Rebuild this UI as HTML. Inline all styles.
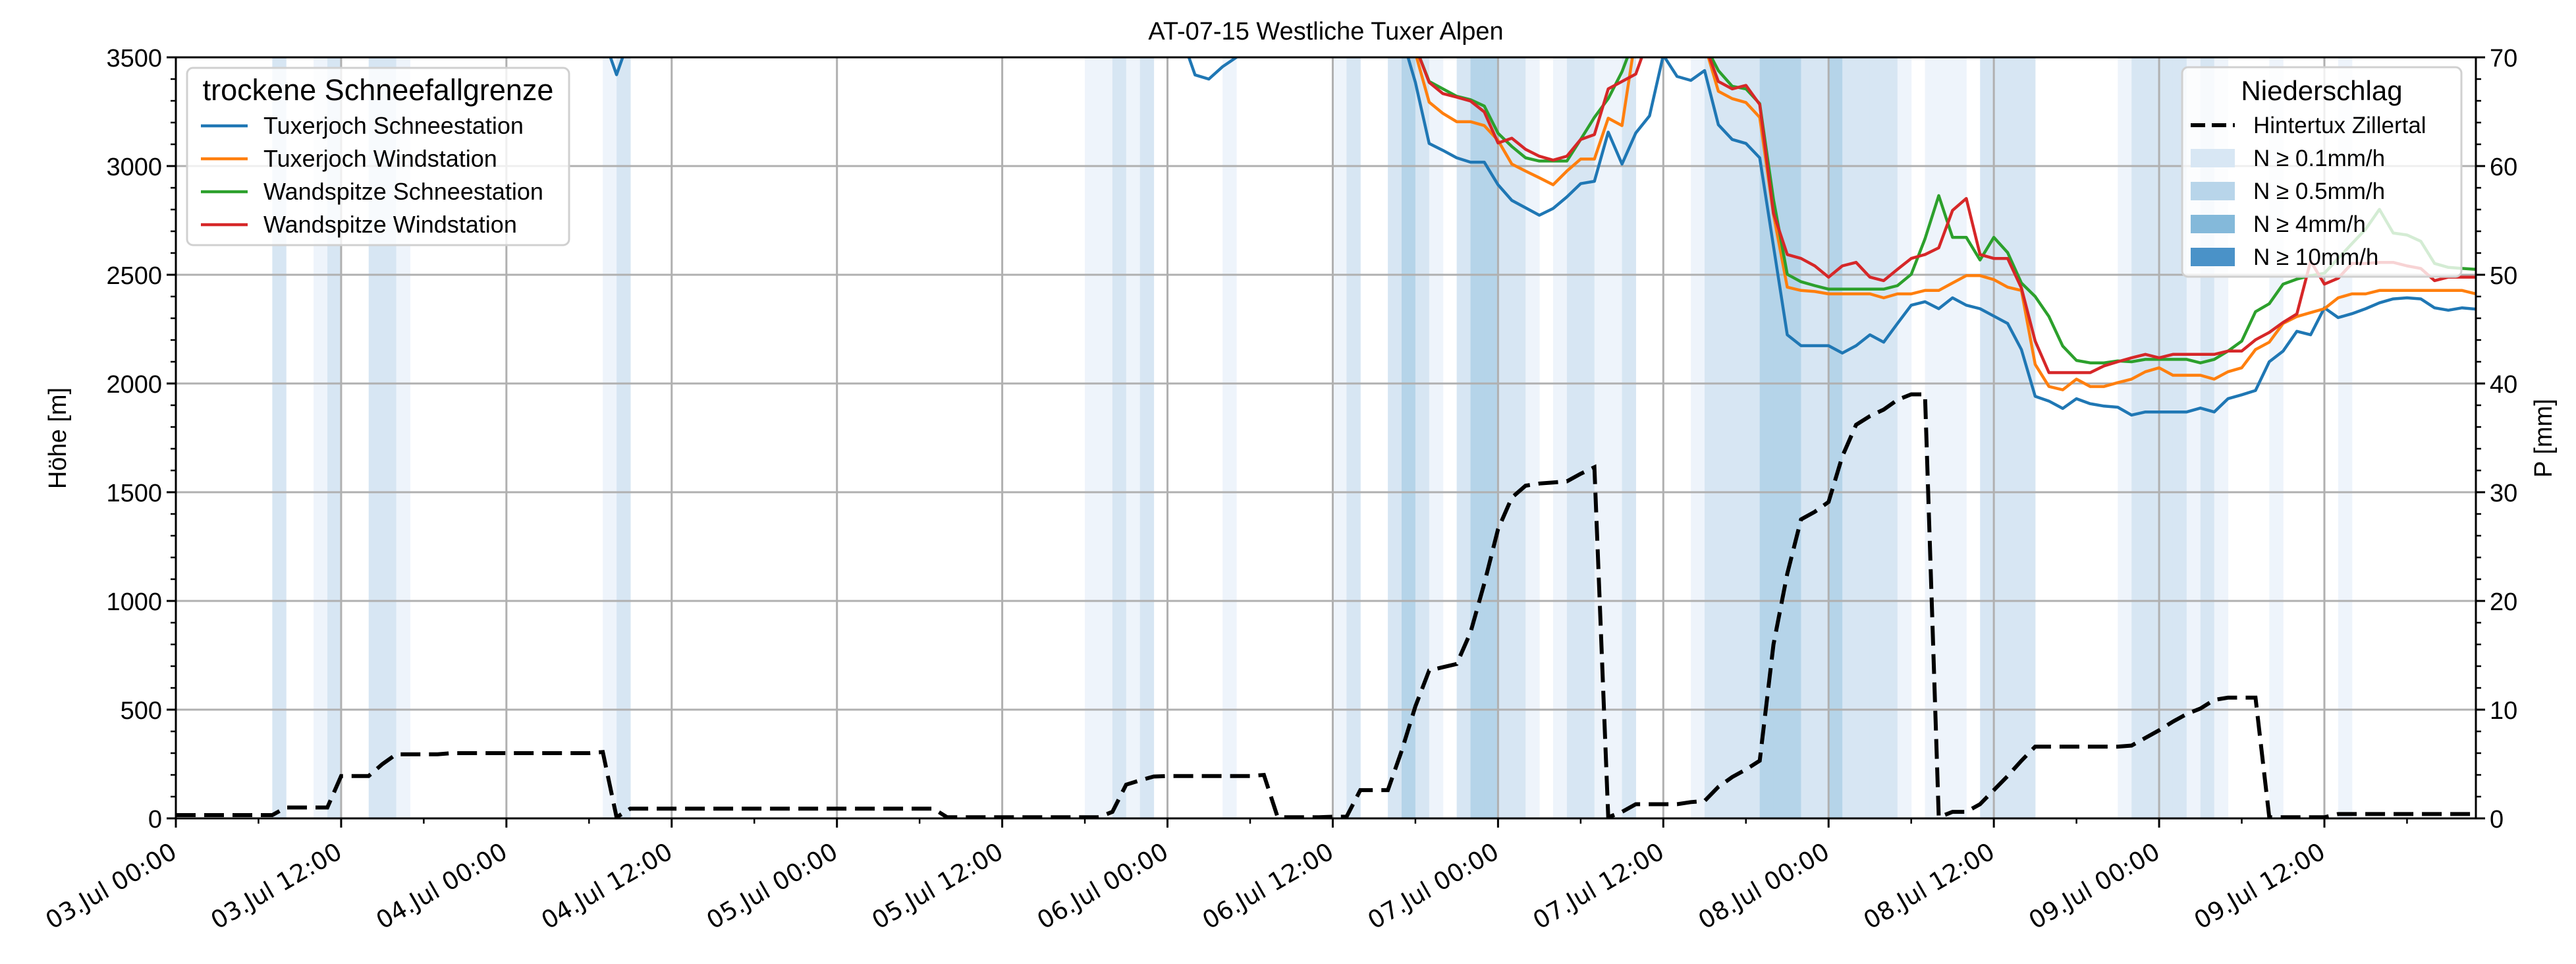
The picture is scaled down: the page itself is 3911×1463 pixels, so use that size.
<!DOCTYPE html>
<html><head><meta charset="utf-8"><title>AT-07-15 Westliche Tuxer Alpen</title>
<style>html,body{margin:0;padding:0;background:#fff}svg{display:block;font-family:"Liberation Sans","DejaVu Sans",sans-serif}</style>
</head><body>
<svg id="chart" xmlns="http://www.w3.org/2000/svg" width="3911" height="1463" viewBox="0 0 3911 1463">
<defs><clipPath id="plotclip"><rect x="267" y="87" width="3492" height="1155"/></clipPath></defs>
<rect x="0" y="0" width="3911" height="1463" fill="#fff"/>
<g id="bands" clip-path="url(#plotclip)"></g>
<g id="grid"></g>
<g id="series" clip-path="url(#plotclip)"></g>
<g id="legend1"></g>
<g id="precip" clip-path="url(#plotclip)"></g>
<g id="axes"></g>
<g id="legend2"></g>
<text x="2013" y="60" font-size="38" text-anchor="middle">AT-07-15 Westliche Tuxer Alpen</text>
<text x="0" y="0" font-size="38" text-anchor="middle" transform="translate(100,665) rotate(-90)">Höhe [m]</text>
<text x="0" y="0" font-size="38" text-anchor="middle" transform="translate(3874,665) rotate(-90)">P [mm]</text>
</svg>
<script>
// ---- data ----
const xTickLabels = ["03.Jul 00:00","03.Jul 12:00","04.Jul 00:00","04.Jul 12:00","05.Jul 00:00","05.Jul 12:00","06.Jul 00:00","06.Jul 12:00","07.Jul 00:00","07.Jul 12:00","08.Jul 00:00","08.Jul 12:00","09.Jul 00:00","09.Jul 12:00"];
const yTicks = [0,500,1000,1500,2000,2500,3000,3500];
const y2Ticks = [0,10,20,30,40,50,60,70];
const seriesNames = ["Tuxerjoch Schneestation","Tuxerjoch Windstation","Wandspitze Schneestation","Wandspitze Windstation"];
const seriesColors = ["#1f77b4","#ff7f0e","#2ca02c","#d62728"];
const tuxSchneeAStart = 30;
const tuxSchneeA = [3700,3600,3420,3600,3700];
const tuxSchneeBStart = 72;
const tuxSchneeB = [3700,3600,3419,3400,3457,3500,3650];
const mainStart = 88;
const tuxSchnee = [3700,3600,3385,3104,3072,3038,3018,3018,2914,2842,2808,2774,2805,2858,2919,2930,3156,3009,3152,3231,3510,3412,3394,3439,3190,3122,3104,3038,2631,2224,2174,2174,2174,2140,2174,2224,2190,2276,2360,2376,2344,2394,2360,2344,2310,2276,2156,1941,1919,1885,1930,1907,1896,1891,1855,1869,1869,1869,1869,1887,1869,1930,1948,1968,2100,2149,2240,2224,2348,2303,2321,2344,2371,2389,2394,2389,2348,2337,2348,2342];
const tuxWind = [3800,3700,3520,3294,3242,3204,3204,3186,3118,3009,2977,2946,2914,2977,3032,3032,3220,3186,3600,3800,3800,3700,3600,3560,3344,3310,3292,3224,2778,2443,2428,2423,2412,2412,2412,2412,2394,2412,2412,2428,2428,2462,2496,2496,2478,2443,2428,2088,1986,1971,2020,1986,1986,2004,2020,2054,2072,2038,2038,2038,2020,2054,2072,2156,2190,2276,2308,2326,2344,2394,2412,2412,2428,2428,2428,2428,2428,2428,2428,2412];
const wandSchnee = [3800,3700,3550,3389,3355,3321,3305,3276,3151,3090,3038,3023,3023,3023,3122,3224,3310,3434,3600,3800,3800,3800,3700,3560,3439,3367,3355,3287,2846,2502,2468,2450,2434,2434,2434,2434,2434,2450,2502,2665,2864,2672,2672,2568,2672,2602,2462,2400,2308,2172,2106,2095,2095,2104,2100,2111,2111,2111,2111,2095,2111,2149,2195,2330,2367,2457,2480,2496,2507,2575,2643,2710,2801,2692,2683,2654,2552,2534,2529,2525];
const wandWind = [3800,3700,3550,3385,3333,3317,3299,3249,3106,3128,3077,3045,3027,3045,3122,3145,3355,3389,3423,3600,3800,3800,3700,3560,3389,3355,3371,3283,2783,2593,2575,2541,2489,2541,2557,2489,2473,2525,2575,2593,2624,2796,2851,2593,2575,2575,2439,2195,2050,2050,2050,2050,2081,2100,2118,2134,2118,2134,2134,2134,2134,2149,2149,2201,2235,2281,2320,2563,2457,2484,2552,2552,2557,2557,2541,2529,2473,2489,2489,2489];
const precip = [0.3,0.3,0.3,0.3,0.3,0.3,0.3,0.3, 1,1,1,1, 3.9,3.9,3.9, 5.0,
 5.9,5.9,5.9,5.9,6,6,6,6,6,6,6,6,6,6,6,6.1, 0.1,
 0.9,0.9,0.9,0.9,0.9,0.9,0.9,0.9,0.9,0.9,0.9,0.9,0.9,0.9,0.9,0.9,0.9,0.9,0.9,0.9,0.9,0.9,0.9,
 0.1,0.1,0.1,0.1,0.1,0.1,0.1,0.1,0.1,0.1,0.1,0.1,
 0.6,3.1,3.5,3.85,3.9,3.9,3.9,3.9,3.9,3.9,3.9,4.0,
 0.1,0.1,0.1,0.1,0.15,0.15,
 2.6,2.6,2.6,6.2,10.3,13.6,13.9,14.2,17.1,21.6,26.6,29.5,30.6,30.8,30.9,31.0,31.7,32.3,
 0.1,0.6,1.3,1.3,1.3,1.3,1.5,1.6,2.9,3.8,4.5,5.3,16,22.5,27.5,28.2,29.1,33.3,36.2,37.0,37.6,38.5,39.0,39.0,
 0.1,0.6,0.6,1.3,2.6,3.9,5.3,6.6,6.6,6.6,6.6,6.6,6.6,6.6,6.7,7.4,8.1,8.9,9.6,10.1,10.9,11.1,11.1,11.1,
 0.1,0.1,0.1,0.1,0.1,
 0.4,0.4,0.4,0.4,0.4,0.4,0.4,0.4,0.4,0.4,0.4];
const bandHours  = [7,10,11,14,15,16,31,32,66,67,68,69,70,76,84,85,88,89,90,91,93,94,95,96,97,98,100,101,102,103,104,105,110,111,112,113,114,115,116,117,118,119,120,121,122,123,124,125,127,128,129,131,132,133,134,141,142,143,144,145,146,147,148,152,157];
const bandLevels = [2,1,2,2,2,1,1,2,1,1,2,1,2,1,1,2,2,3,2,1,2,3,3,2,2,1,1,2,2,1,1,2,1,2,2,2,2,3,3,3,2,2,3,2,2,2,2,1,1,1,1,2,2,2,2,1,2,2,2,2,1,2,1,1,1];
const bandLabels = ["N ≥ 0.1mm/h","N ≥ 0.5mm/h","N ≥ 4mm/h","N ≥ 10mm/h"];

// ---- scales ----
const L=267,R=3759,T=87,B=1242,HMAX=167;
const xs=h=>L+h*(R-L)/HMAX;
const yl=v=>B-v/3500*(B-T);
const yr=p=>B-p/70*(B-T);
const NS="http://www.w3.org/2000/svg";
function mk(tag,attrs,parent){const e=document.createElementNS(NS,tag);for(const k in attrs)e.setAttribute(k,attrs[k]);parent.appendChild(e);return e;}
const bandFill=["#ffffff","#eef4fb","#d7e6f3","#b5d4e9","#4b96c9"];
const legendFill=["#d8e7f4","#b8d5ea","#84b9da","#4a92c8"];

// bands
const gB=document.getElementById('bands');
bandHours.forEach((h,i)=>{
  const r=mk('rect',{x:xs(h),y:T,width:xs(1)-xs(0)+0.5,height:B-T,fill:bandFill[bandLevels[i]]},gB);
  
  
});

// grid
const gG=document.getElementById('grid');
xTickLabels.forEach((t,i)=>{
  const x=xs(i*12);
  const l=mk('line',{x1:x,x2:x,y1:T,y2:B,stroke:'#b0b0b0','stroke-width':3},gG);
  
  
});
yTicks.forEach(v=>{
  const y=yl(v);
  const l=mk('line',{x1:L,x2:R,y1:y,y2:y,stroke:'#b0b0b0','stroke-width':3},gG);
  
  
});

// series
const gS=document.getElementById('series');
function poly(start,vals,color,name){
  const pts=vals.map((v,i)=>xs(start+i).toFixed(1)+','+yl(v).toFixed(1)).join(' ');
  const p=mk('polyline',{points:pts,fill:'none',stroke:color,'stroke-width':4.5,'stroke-linejoin':'round'},gS);
  
  
}
poly(tuxSchneeAStart,tuxSchneeA,seriesColors[0],'line-tuxerjoch-schneestation');
poly(tuxSchneeBStart,tuxSchneeB,seriesColors[0],'line-tuxerjoch-schneestation');
poly(mainStart,tuxSchnee,seriesColors[0],'line-tuxerjoch-schneestation');
poly(mainStart,tuxWind,seriesColors[1],'line-tuxerjoch-windstation');
poly(mainStart,wandSchnee,seriesColors[2],'line-wandspitze-schneestation');
poly(mainStart,wandWind,seriesColors[3],'line-wandspitze-windstation');

// legend 1
const g1=document.getElementById('legend1');


mk('rect',{x:284,y:103,width:580,height:269,rx:9,fill:'#fff','fill-opacity':0.8,stroke:'#d0d0d0','stroke-width':3},g1);
const t1=mk('text',{x:574,y:152,'font-size':45,'text-anchor':'middle'},g1);t1.textContent='trockene Schneefallgrenze';
seriesNames.forEach((n,i)=>{
  const y=191+i*50;
  const ln=mk('line',{x1:305,x2:376,y1:y,y2:y,stroke:seriesColors[i],'stroke-width':4.5},g1);
  
  
  const t=mk('text',{x:400,y:y+12,'font-size':36},g1);t.textContent=n;
  
  
});

// precip line
const gP=document.getElementById('precip');
const pp=mk('polyline',{points:precip.map((v,i)=>xs(i).toFixed(1)+','+yr(v).toFixed(1)).join(' '),fill:'none',stroke:'#000','stroke-width':6,'stroke-dasharray':'30 13'},gP);



// axes
const gA=document.getElementById('axes');
mk('rect',{x:L,y:T,width:R-L,height:B-T,fill:'none',stroke:'#000','stroke-width':3},gA);
xTickLabels.forEach((t,i)=>{
  const x=xs(i*12);
  mk('line',{x1:x,x2:x,y1:B,y2:B+14,stroke:'#000','stroke-width':3},gA);
  const tx=mk('text',{x:x+4,y:1300,'font-size':37,'font-family':'"DejaVu Sans",sans-serif','text-anchor':'end',transform:`rotate(-30 ${x+4} 1300)`},gA);
  tx.textContent=t;
  
  
});
for(let h=6;h<=HMAX;h+=12){const x=xs(h);mk('line',{x1:x,x2:x,y1:B,y2:B+8,stroke:'#000','stroke-width':2.5},gA);}
yTicks.forEach(v=>{
  const y=yl(v);
  mk('line',{x1:L-14,x2:L,y1:y,y2:y,stroke:'#000','stroke-width':3},gA);
  const tx=mk('text',{x:246,y:y+14,'font-size':38,'text-anchor':'end'},gA);tx.textContent=v;
  
  
});
for(let v=100;v<3500;v+=100){if(v%500){const y=yl(v);mk('line',{x1:L-8,x2:L,y1:y,y2:y,stroke:'#000','stroke-width':2.5},gA);}}
y2Ticks.forEach(v=>{
  const y=yr(v);
  mk('line',{x1:R,x2:R+14,y1:y,y2:y,stroke:'#000','stroke-width':3},gA);
  const tx=mk('text',{x:3780,y:y+14,'font-size':38},gA);tx.textContent=v;
  
  
});
for(let v=2;v<70;v+=2){if(v%10){const y=yr(v);mk('line',{x1:R,x2:R+8,y1:y,y2:y,stroke:'#000','stroke-width':2.5},gA);}}

// legend 2
const g2=document.getElementById('legend2');


mk('rect',{x:3313,y:102,width:424,height:318,rx:9,fill:'#fff','fill-opacity':0.8,stroke:'#d0d0d0','stroke-width':3},g2);
const t2=mk('text',{x:3525,y:152,'font-size':42,'text-anchor':'middle'},g2);t2.textContent='Niederschlag';
mk('line',{x1:3326,x2:3393,y1:190,y2:190,stroke:'#000','stroke-width':6,'stroke-dasharray':'22 10'},g2);
const t3=mk('text',{x:3421,y:202,'font-size':35},g2);t3.textContent='Hintertux Zillertal';


bandLabels.forEach((n,i)=>{
  const y=240+i*50;
  const r=mk('rect',{x:3326,y:y-14,width:67,height:28,fill:legendFill[i]},g2);
  
  
  const t=mk('text',{x:3421,y:y+12,'font-size':35},g2);t.textContent=n;
  
  
});
</script>
</body></html>
